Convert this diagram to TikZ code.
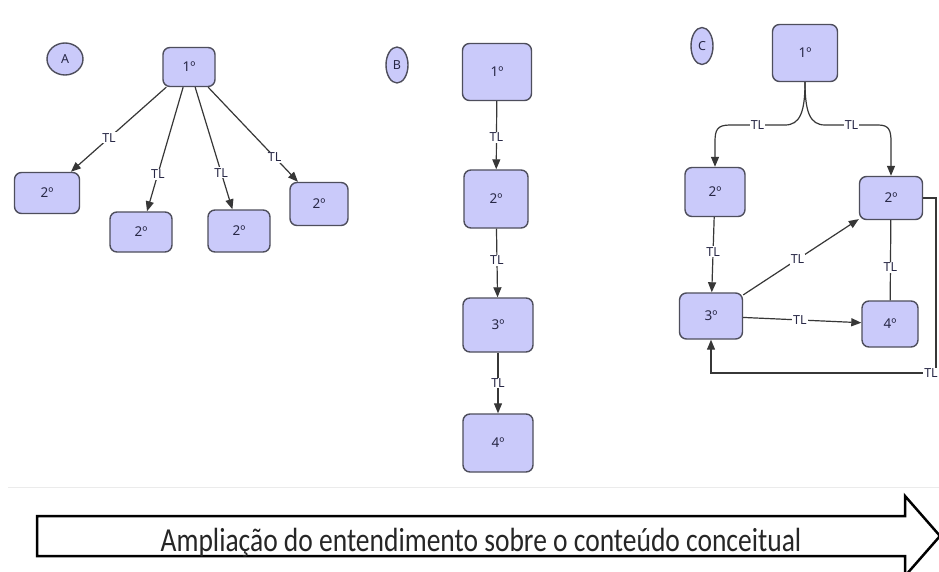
\documentclass[tikz,border=0pt]{standalone}
\usepackage{fontspec}
\setmainfont{Noto Sans}
\newfontfamily\carl{Carlito}
\usetikzlibrary{arrows.meta,shapes.geometric}
\definecolor{boxc}{RGB}{202,202,250}
\definecolor{bordc}{RGB}{78,78,92}
\definecolor{txtc}{RGB}{40,40,70}
\definecolor{linec}{RGB}{55,55,55}
\tikzset{
  box/.style={draw=bordc, fill=boxc, rounded corners=7pt, line width=1.4pt,
    text=txtc, font=\fontsize{13.5}{15}\selectfont, inner sep=0pt},
  tag/.style={ellipse, draw=bordc, fill=boxc, line width=1.4pt, text=txtc,
    font=\fontsize{12.5}{14}\selectfont, inner sep=0pt},
  lab/.style={font=\fontsize{12.5}{14}\selectfont, fill=white, inner sep=1pt, text=txtc},
  edge/.style={draw=linec, line width=1.2pt, -{Triangle[length=10pt,width=8pt]}},
  plain/.style={draw=linec, line width=1.2pt},
}
\begin{document}
\begin{tikzpicture}[x=1pt,y=-1pt]
\useasboundingbox (0,0) rectangle (939,572);
\fill[white] (0,0) rectangle (939,572);
\draw[black!8, line width=0.8pt] (8,487) -- (939,487);

% Panel A
\node[tag, minimum width=36pt, minimum height=32pt] (tA) at (65,59) {A};
\node[box, minimum width=52pt, minimum height=39pt] (a1) at (189,67) {1º};
\node[box, minimum width=65pt, minimum height=41pt] (a2) at (47,193) {2º};
\node[box, minimum width=62pt, minimum height=40pt] (a3) at (141,232) {2º};
\node[box, minimum width=62pt, minimum height=42pt] (a4) at (239,231) {2º};
\node[box, minimum width=58pt, minimum height=43pt] (a5) at (319,204) {2º};
\draw[edge] (a1) -- node[lab,pos=0.6] {TL} (a2);
\draw[edge] (a1) -- node[lab,pos=0.7] {TL} (a3);
\draw[edge] (a1) -- node[lab,pos=0.7] {TL} (a4);
\draw[edge] (a1) -- node[lab,pos=0.74] {TL} (a5);

% Panel B
\node[tag, minimum width=22pt, minimum height=36pt] (tB) at (397,65) {B};
\node[box, minimum width=69pt, minimum height=57pt] (b1) at (497,72) {1º};
\node[box, minimum width=64pt, minimum height=58pt] (b2) at (496,199) {2º};
\node[box, minimum width=70pt, minimum height=54pt] (b3) at (498,325) {3º};
\node[box, minimum width=70pt, minimum height=58pt] (b4) at (498,443) {4º};
\draw[edge] (b1) -- node[lab,pos=0.53] {TL} (b2);
\draw[edge] (b2) -- node[lab,pos=0.46] {TL} (b3);
\draw[edge] (b3) -- node[lab,pos=0.5] {TL} (b4);

% Panel C
\node[tag, minimum width=22pt, minimum height=37pt] (tC) at (702,46) {C};
\node[box, minimum width=65pt, minimum height=57pt] (c1) at (805,53) {1º};
\node[box, minimum width=60pt, minimum height=49pt] (c2l) at (715,192) {2º};
\node[box, minimum width=63pt, minimum height=43pt] (c2r) at (891,198) {2º};
\node[box, minimum width=63pt, minimum height=46pt] (c3) at (711,316) {3º};
\node[box, minimum width=56pt, minimum height=46pt] (c4) at (890,324) {4º};
\draw[edge] (c1.south) .. controls (805,112) and (800,125) .. (785,125)
  -- node[lab] {TL} (730,125) .. controls (717,125) and (715,130) .. (715,142) -- (c2l.north);
\draw[edge] (c1.south) .. controls (805,112) and (810,125) .. (825,125)
  -- node[lab] {TL} (878,125) .. controls (889,125) and (891,130) .. (891,142) -- (c2r.north);
\draw[edge] (c2l) -- node[lab,pos=0.46] {TL} (c3);
\draw[edge] (c3) -- node[lab,pos=0.47] {TL} (c2r);
\draw[edge] (c3) -- node[lab,pos=0.48] {TL} (c4);
\draw[plain] (c4) -- node[lab,pos=0.41] {TL} (c2r);
\coordinate (lr) at (936,373);
\draw[edge] (c2r.east) -| (lr) -| (c3.south);
\node[lab] (tlr) at (931,373) {TL};

% Big arrow
\draw[black, line width=2.5pt, line join=miter, fill=white]
  (37,516) -- (905,516) -- (905,496) -- (940,536) -- (905,576) -- (905,556) -- (37,556) -- cycle;
\node[anchor=base, inner sep=0pt, text=black!85] (cap) at (481,551)
  {\scalebox{1}[1.22]{\carl\fontsize{27.5}{30}\selectfont Ampliação do entendimento sobre o conteúdo conceitual}};
\end{tikzpicture}
\end{document}
